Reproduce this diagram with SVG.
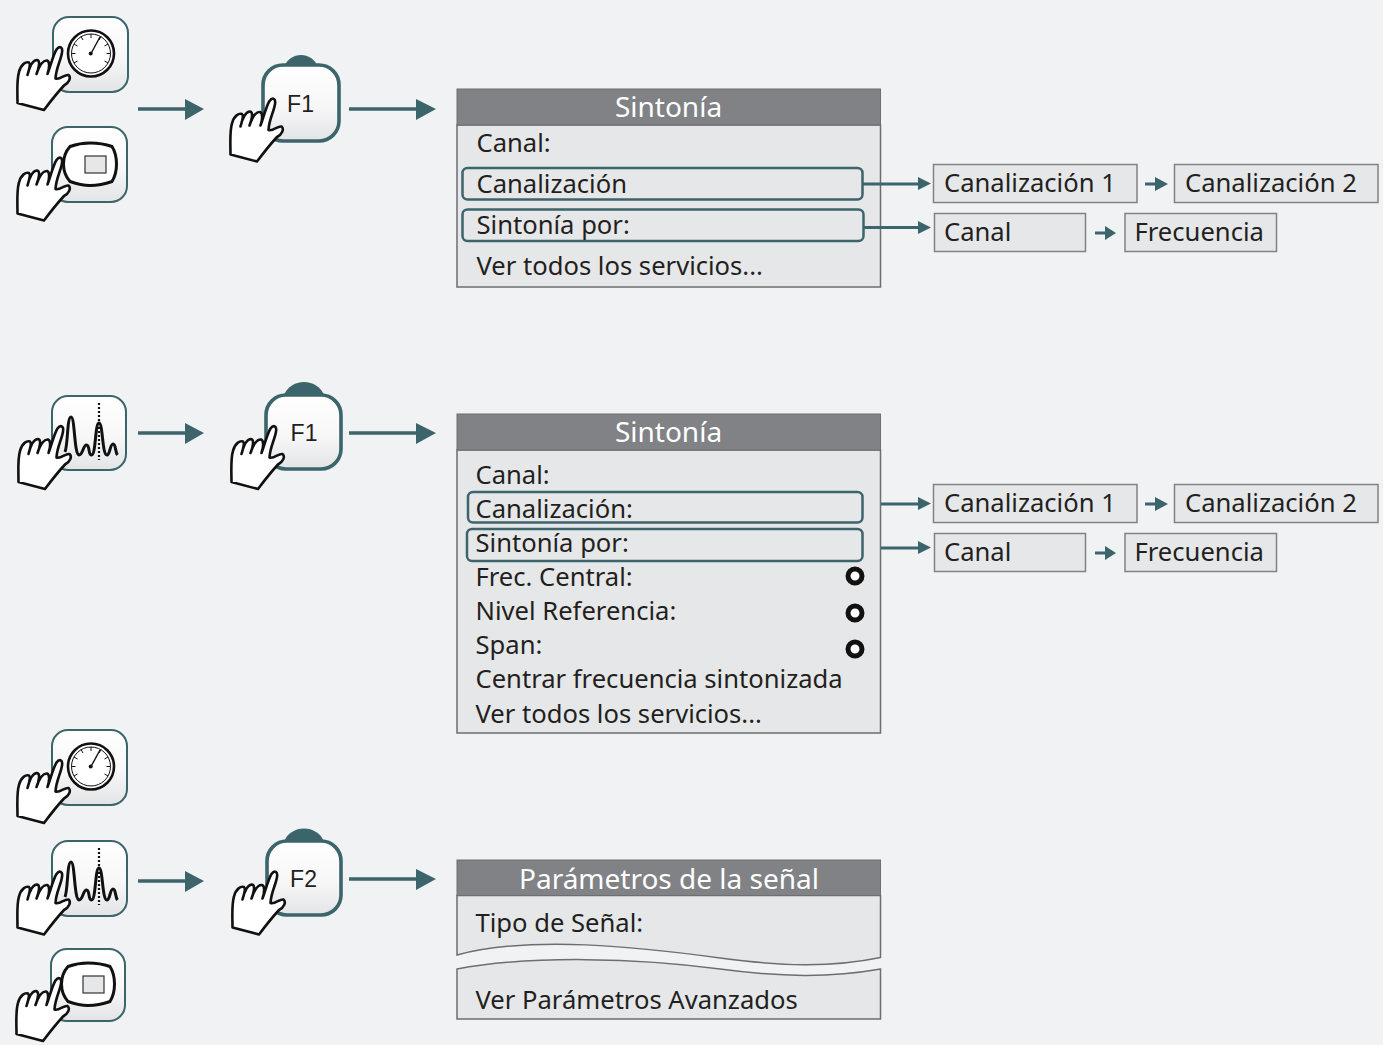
<svg xmlns="http://www.w3.org/2000/svg" width="1383" height="1045" viewBox="0 0 1383 1045">
<style>
.t{font-family:"Noto Sans","Open Sans",sans-serif;font-size:25.6px;fill:#231f20}
.h{font-family:"Noto Sans","Open Sans",sans-serif;font-size:28px;fill:#fff;text-anchor:middle}
.f{font-family:"Liberation Sans",Arial,sans-serif;font-size:23px;fill:#231f20;text-anchor:middle}
.body{fill:#e6e7e8;stroke:#6d6e71;stroke-width:1.5}
.head{fill:#808285;stroke:#6d6e71;stroke-width:1}
.sel{fill:none;stroke:#3c646b;stroke-width:2.5}
.opt{fill:#e6e7e8;stroke:#808285;stroke-width:1.5}
.btn{fill:url(#g);stroke:#3c646b;stroke-width:2}
.fbtn{fill:url(#g);stroke:#3c646b;stroke-width:3.6}
.bump{fill:#3c646b}
.hand{fill:#fff;stroke:#111;stroke-width:2.6;stroke-linejoin:round}
.c{fill:none;stroke:#3c646b;stroke-width:3.5}
.c2{fill:none;stroke:#3c646b;stroke-width:3}
.ah{fill:#3c646b}
.rd{fill:#fff;stroke:#111;stroke-width:5}
</style>
<defs>
<linearGradient id="g" x1="0" y1="0" x2="0" y2="1"><stop offset="0" stop-color="#fff"/><stop offset="0.55" stop-color="#f7f7f8"/><stop offset="1" stop-color="#e3e4e6"/></linearGradient>
<path id="hand" class="hand" d="M17.500 103C17.500 92 16.500 80 19 72C21 64 26 61.500 29 62.500C31 64 29 70 27.500 75C29 69 32 60 37 60C40.500 60.500 39 68 36.500 74C38.500 68 42 60 47 60.500C50 61.500 49.500 68 47.500 74C50 68 53 55 56.500 49.500C59.500 45.500 63 47 62 52.500C61 60 56 68 55.500 78.500C60 80 65 74 68.500 75C71.500 77.500 69 83 64 85.500C58 92 50 102 44 110Z"/>
<g id="gauge"><circle cx="91" cy="53.500" r="23" fill="#fff" stroke="#111" stroke-width="2.600"/><circle cx="91" cy="53.500" r="19.500" fill="#fff" stroke="#111" stroke-width="1"/><path d="M91 34v4M81 36.500l2 3.500M74 44l3.500 2M71.500 53.500h4M101 36.500l-2 3.500M108 44l-3.500 2M110.500 53.500h-4M74 63l3.500-2M108 63l-3.500-2" fill="none" stroke="#111" stroke-width="1"/><path d="M91 53.500L100 37" fill="none" stroke="#111" stroke-width="1.400"/><circle cx="90.700" cy="53.500" r="2" fill="#111"/></g>
<g id="screen"><path d="M70 146.500C77 144 83 143 90 143C97 143 105 144 112 146.500C116 153 116.500 158 116.500 164C116.500 170 116 175 112 181.500C105 184 97 185.500 90 185.500C83 185.500 77 184 70 181.500C66 177 63.500 170 63.500 164C63.500 158 66 151 70 146.500Z" fill="#fff" stroke="#111" stroke-width="3"/><rect x="85" y="156" width="21" height="17" fill="#e6e7e8" stroke="#333" stroke-width="1.200"/></g>
<g id="spec"><path d="M65 452C68 445 67 417 71 417C75 417 74 454 79 455C83 455 83 445 86.500 445C90 445 88 455 91.500 455C96 455 95 423 99 423C103 423 102 455 107 455C110 455 110 444 113 444C116 444 115 452 117.500 455" fill="none" stroke="#111" stroke-width="3"/><path d="M99 403V460" fill="none" stroke="#111" stroke-width="2.200" stroke-dasharray="2 2"/></g>
</defs>
<rect width="1383" height="1045" fill="#f1f2f4"/>

<g id="btn-gauge-1"><rect class="btn" x="53" y="17" width="75" height="75" rx="16"/><use href="#gauge"/><use href="#hand"/></g>
<g id="btn-screen-1"><rect class="btn" x="52" y="127" width="75" height="75" rx="16"/><use href="#screen"/><use href="#hand" y="110.500"/></g>
<g id="btn-f1-1"><path class="bump" d="M284 67C290 51 312 51 318 67Z"/><rect class="fbtn" x="263" y="65" width="76" height="76" rx="20"/><text class="f" x="300.500" y="112">F1</text><use href="#hand" x="213" y="51.500"/></g>
<g id="btn-spec-1"><rect class="btn" x="52" y="396" width="74" height="74" rx="16"/><use href="#spec"/><use href="#hand" x="1" y="379"/></g>
<g id="btn-f1-2"><path class="bump" d="M283 397C290 377 318 377 325 397Z"/><rect class="fbtn" x="266" y="395" width="75" height="74" rx="20"/><text class="f" x="304" y="441">F1</text><use href="#hand" x="214" y="379"/></g>
<g id="btn-gauge-2"><rect class="btn" x="52" y="730" width="75" height="75" rx="16"/><use href="#gauge" x="0" y="713"/><use href="#hand" y="713"/></g>
<g id="btn-spec-2"><rect class="btn" x="52" y="841" width="75" height="75" rx="16"/><use href="#spec" y="445"/><use href="#hand" y="824.500"/></g>
<g id="btn-screen-2"><rect class="btn" x="51" y="949" width="74" height="72" rx="16"/><use href="#screen" x="-2" y="820"/><use href="#hand" x="-1" y="931"/></g>
<g id="btn-f2"><path class="bump" d="M284 842C290 824 318 824 324 842Z"/><rect class="fbtn" x="267" y="841" width="74" height="74" rx="20"/><text class="f" x="303.500" y="887">F2</text><use href="#hand" x="215" y="824.500"/></g>

<g id="menu-1">
<rect class="body" x="457" y="125" width="423.500" height="162"/>
<rect class="head" x="457" y="89" width="423.500" height="36"/>
<text class="h" x="668.500" y="117">Sintonía</text>
<text class="t" x="476.500" y="152">Canal:</text>
<rect class="sel" x="462.500" y="168" width="400" height="31.500" rx="5"/>
<text class="t" x="476.500" y="193">Canalización</text>
<rect class="sel" x="462.500" y="209.500" width="401" height="31.500" rx="5"/>
<text class="t" x="476.500" y="234">Sintonía por:</text>
<text class="t" x="476.500" y="275">Ver todos los servicios...</text>
</g>
<g id="opt-1"><rect class="opt" x="933.500" y="164.500" width="203.500" height="38"/><text class="t" x="944" y="192">Canalización 1</text></g>
<g id="opt-2"><rect class="opt" x="1174.500" y="164.500" width="203.500" height="38"/><text class="t" x="1185" y="192">Canalización 2</text></g>
<g id="opt-3"><rect class="opt" x="934.500" y="213.500" width="151" height="38"/><text class="t" x="944" y="241">Canal</text></g>
<g id="opt-4"><rect class="opt" x="1125" y="213.500" width="151.500" height="38"/><text class="t" x="1134.500" y="241">Frecuencia</text></g>

<g id="menu-2">
<rect class="body" x="457" y="450" width="423.500" height="283"/>
<rect class="head" x="457" y="414" width="423.500" height="36"/>
<text class="h" x="668.500" y="442">Sintonía</text>
<text class="t" x="475.500" y="484">Canal:</text>
<rect class="sel" x="468" y="492" width="394.500" height="30.500" rx="5"/>
<text class="t" x="475.500" y="518">Canalización:</text>
<rect class="sel" x="467" y="529" width="395.500" height="32" rx="5"/>
<text class="t" x="475.500" y="552">Sintonía por:</text>
<text class="t" x="475.500" y="586">Frec. Central:</text>
<text class="t" x="475.500" y="620">Nivel Referencia:</text>
<text class="t" x="475.500" y="654">Span:</text>
<text class="t" x="475.500" y="688">Centrar frecuencia sintonizada</text>
<text class="t" x="475.500" y="723">Ver todos los servicios...</text>
<circle class="rd" cx="855" cy="576" r="7"/><circle class="rd" cx="855" cy="613" r="7"/><circle class="rd" cx="855" cy="649" r="7"/>
</g>
<g id="opt-5"><rect class="opt" x="933.500" y="484.500" width="203.500" height="38"/><text class="t" x="944" y="512">Canalización 1</text></g>
<g id="opt-6"><rect class="opt" x="1174.500" y="484.500" width="203.500" height="38"/><text class="t" x="1185" y="512">Canalización 2</text></g>
<g id="opt-7"><rect class="opt" x="934.500" y="533.500" width="151" height="38"/><text class="t" x="944" y="561">Canal</text></g>
<g id="opt-8"><rect class="opt" x="1125" y="533.500" width="151.500" height="38"/><text class="t" x="1134.500" y="561">Frecuencia</text></g>

<g id="menu-3">
<path class="body" d="M457 895.500H880.500V957.500C830 968 780 966 720 958C640 947 530 935 457 955Z"/>
<path class="body" d="M457 969C530 955 640 958 720 969C780 977 830 978 880.500 969V1019H457Z"/>
<rect class="head" x="457" y="860" width="423.500" height="35.500"/>
<text class="h" x="669" y="889">Parámetros de la señal</text>
<text class="t" x="475.500" y="932">Tipo de Señal:</text>
<text class="t" x="475.500" y="1009">Ver Parámetros Avanzados</text>
</g>

<g id="connectors">
<path class="c" d="M138 109H188M349 109H420M138 433H188M349 433H420M138 881H188M349 879H420"/>
<path class="ah" d="M185 99L204 109L185 120ZM416 99L436 109L416 120ZM185 423L204 433L185 444ZM416 423L436 433L416 444ZM185 871L204 881L185 892ZM416 869L436 879L416 890Z"/>
<path class="c2" d="M863 184H920M864 227.500H920M881 504H920M881 548H920M1145 184H1158M1095 233H1106M1145 504H1158M1095 553H1106"/>
<path class="ah" d="M918 177L931 183.500L918 190ZM918 221L931 227.500L918 234ZM918 497L931 503.500L918 510ZM918 541L931 547.500L918 554ZM1155 177L1168 184L1155 191ZM1105 226L1116 233L1105 240ZM1155 497L1168 504L1155 511ZM1105 546L1116 553L1105 560Z"/>
</g>
</svg>
